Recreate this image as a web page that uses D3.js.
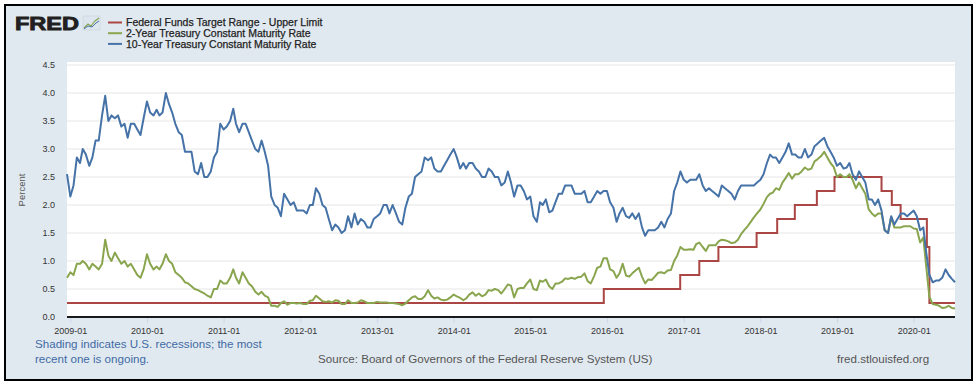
<!DOCTYPE html>
<html>
<head>
<meta charset="utf-8">
<script src="https://cdn.jsdelivr.net/npm/d3@7"></script>
<style>
  body { margin: 0; background: #fff; }
  text { font-family: "Liberation Sans", Arial, sans-serif; }
</style>
</head>
<body>
<div id="chart"></div>
<script>
//chart size
const width = 979,
  height = 386;

//series names (legend order)
const seriesNames = [
  "Federal Funds Target Range - Upper Limit",
  "2-Year Treasury Constant Maturity Rate",
  "10-Year Treasury Constant Maturity Rate",
];
const seriesColors = ["#aa4643", "#89a54e", "#4572a7"];

//first observation, then one value on the 1st and 16th of each month
const firstDate = "2008-12-16";

//10-year treasury, semi-monthly readings (one row per year)
const tenYear = [
  2.55,
  2.15, 2.35, 2.85, 2.75, 3.0, 2.9, 2.7, 2.85, 3.15, 3.15, 3.6, 3.95, 3.5, 3.6, 3.55, 3.6, 3.4, 3.45, 3.2, 3.45, 3.45, 3.35, 3.25, 3.55,
  3.85, 3.65, 3.6, 3.7, 3.6, 3.65, 4.0, 3.8, 3.65, 3.45, 3.3, 3.25, 2.95, 2.95, 2.95, 2.6, 2.55, 2.75, 2.5, 2.5, 2.6, 2.85, 2.95, 3.45,
  3.35, 3.4, 3.5, 3.72, 3.45, 3.3, 3.45, 3.45, 3.3, 3.15, 3.0, 2.95, 3.15, 2.95, 2.7, 2.15, 2.0, 1.95, 1.8, 2.2, 2.1, 2.0, 2.05, 1.9,
  1.9, 1.9, 1.85, 2.0, 2.0, 2.3, 2.2, 2.0, 1.95, 1.75, 1.55, 1.65, 1.6, 1.5, 1.55, 1.8, 1.6, 1.85, 1.65, 1.75, 1.7, 1.6, 1.6, 1.75,
  1.8, 1.85, 2.0, 2.0, 1.85, 2.0, 1.85, 1.7, 1.65, 1.95, 2.15, 2.2, 2.5, 2.55, 2.6, 2.85, 2.8, 2.85, 2.65, 2.6, 2.6, 2.7, 2.8, 2.9,
  3.0, 2.85, 2.65, 2.75, 2.65, 2.75, 2.75, 2.65, 2.6, 2.5, 2.5, 2.65, 2.6, 2.5, 2.5, 2.35, 2.4, 2.6, 2.4, 2.15, 2.35, 2.35, 2.25, 2.1,
  2.15, 1.8, 1.7, 2.05, 2.0, 2.1, 1.87, 1.9, 2.05, 2.2, 2.2, 2.35, 2.35, 2.35, 2.2, 2.2, 2.2, 2.25, 2.05, 2.05, 2.15, 2.25, 2.2, 2.25,
  2.25, 2.05, 1.95, 1.7, 1.85, 1.95, 1.8, 1.77, 1.85, 1.75, 1.85, 1.6, 1.45, 1.55, 1.55, 1.55, 1.6, 1.7, 1.6, 1.75, 1.85, 2.25, 2.4, 2.6,
  2.45, 2.4, 2.45, 2.45, 2.45, 2.55, 2.35, 2.25, 2.3, 2.25, 2.2, 2.15, 2.35, 2.3, 2.25, 2.2, 2.1, 2.25, 2.35, 2.35, 2.35, 2.35, 2.35, 2.4,
  2.45, 2.55, 2.75, 2.9, 2.85, 2.85, 2.75, 2.85, 2.95, 3.1, 2.9, 2.9, 2.85, 2.85, 3.0, 2.85, 2.9, 3.05, 3.1, 3.15, 3.2, 3.05, 2.95, 2.85,
  2.7, 2.75, 2.65, 2.67, 2.75, 2.55, 2.45, 2.6, 2.5, 2.4, 2.1, 2.1, 2.0, 2.1, 1.9, 1.55, 1.5, 1.8, 1.65, 1.75, 1.85, 1.85, 1.8, 1.85,
  1.9, 1.8, 1.55, 1.6, 1.15, 0.75, 0.62, 0.65, 0.65, 0.7, 0.85, 0.75, 0.68, 0.62,
];

//2-year treasury, same dates
const twoYear = [
  0.7,
  0.8, 0.75, 0.95, 0.95, 1.0, 0.95, 0.85, 0.95, 0.9, 0.85, 0.95, 1.38, 1.1, 1.0, 1.15, 1.05, 0.95, 1.0, 0.9, 0.95, 0.85, 0.75, 0.7, 0.85,
  1.12, 0.95, 0.85, 0.9, 0.85, 0.95, 1.12, 1.0, 0.95, 0.8, 0.75, 0.7, 0.62, 0.6, 0.55, 0.5, 0.48, 0.45, 0.42, 0.38, 0.35, 0.5, 0.5, 0.65,
  0.6, 0.6, 0.7, 0.85, 0.7, 0.6, 0.8, 0.7, 0.6, 0.55, 0.45, 0.4, 0.45, 0.38, 0.35, 0.2, 0.2, 0.18, 0.25, 0.28, 0.22, 0.25, 0.25, 0.24,
  0.25, 0.23, 0.23, 0.29, 0.3, 0.38, 0.33, 0.28, 0.27, 0.28, 0.26, 0.3, 0.29, 0.23, 0.23, 0.3, 0.25, 0.25, 0.26, 0.3, 0.28, 0.25, 0.25, 0.25,
  0.27, 0.26, 0.26, 0.26, 0.25, 0.25, 0.24, 0.23, 0.21, 0.24, 0.3, 0.35, 0.37, 0.32, 0.32, 0.37, 0.48, 0.38, 0.33, 0.35, 0.31, 0.3, 0.31, 0.35,
  0.4, 0.37, 0.34, 0.3, 0.33, 0.4, 0.44, 0.38, 0.42, 0.37, 0.4, 0.48, 0.47, 0.5, 0.48, 0.42, 0.5, 0.58, 0.56, 0.35, 0.5, 0.52, 0.52, 0.6,
  0.67, 0.5, 0.48, 0.65, 0.63, 0.67, 0.55, 0.5, 0.6, 0.6, 0.63, 0.69, 0.68, 0.7, 0.68, 0.71, 0.72, 0.78, 0.64, 0.6, 0.73, 0.88, 0.9, 1.05,
  1.05, 0.85, 0.82, 0.7, 0.78, 0.95, 0.74, 0.72, 0.78, 0.83, 0.88, 0.72, 0.6, 0.67, 0.66, 0.72, 0.79, 0.8, 0.78, 0.83, 0.84, 1.0, 1.1, 1.25,
  1.2, 1.2, 1.21, 1.2, 1.3, 1.33, 1.25, 1.18, 1.28, 1.28, 1.28, 1.35, 1.38, 1.37, 1.35, 1.32, 1.33, 1.38, 1.48, 1.55, 1.62, 1.7, 1.78, 1.85,
  1.92, 2.02, 2.14, 2.2, 2.22, 2.3, 2.27, 2.4, 2.48, 2.57, 2.47, 2.55, 2.55, 2.6, 2.67, 2.63, 2.65, 2.78, 2.82, 2.87, 2.95, 2.85, 2.75, 2.68,
  2.5, 2.55, 2.5, 2.5, 2.55, 2.45, 2.3, 2.4, 2.3, 2.2, 1.92, 1.85, 1.8, 1.85, 1.85, 1.55, 1.5, 1.78, 1.6, 1.6, 1.6, 1.62, 1.62, 1.62,
  1.58, 1.57, 1.33, 1.42, 0.9, 0.36, 0.23, 0.22, 0.2, 0.16, 0.17, 0.2, 0.16, 0.15,
];

//fed funds upper limit: date it changed and the new level
const fedDates = [
  "2008-12-16", "2015-12-17", "2016-12-15", "2017-03-16", "2017-06-15",
  "2017-12-14", "2018-03-22", "2018-06-14", "2018-09-27", "2018-12-20",
  "2019-08-01", "2019-09-19", "2019-10-31", "2020-03-04", "2020-03-16", "2020-07-16",
];
const fedUpper = [0.25, 0.5, 0.75, 1.0, 1.25, 1.5, 1.75, 2.0, 2.25, 2.5, 2.25, 2.0, 1.75, 1.25, 0.25, 0.25];

const yTicks = [0, 0.5, 1, 1.5, 2, 2.5, 3, 3.5, 4, 4.5];

//build the date list for the treasury series
const parse = d3.timeParse("%Y-%m-%d");
const obsDates = [parse(firstDate)];
d3.timeMonth.range(new Date(2009, 0, 1), new Date(2020, 7, 1)).forEach((m) => {
  obsDates.push(m, new Date(m.getFullYear(), m.getMonth(), 16));
});

const tenData = tenYear.map((v, i) => ({ date: obsDates[i], value: v }));
const twoData = twoYear.map((v, i) => ({ date: obsDates[i], value: v }));
const fedData = fedUpper.map((v, i) => ({ date: parse(fedDates[i]), value: v }));

//plot box
const plot = { left: 67, right: 955, top: 62, bottom: 317 };

const svg = d3
  .select("#chart")
  .append("svg")
  .attr("width", width)
  .attr("height", height);

//panel with frame
svg
  .append("rect")
  .attr("x", 5)
  .attr("y", 5)
  .attr("width", 967)
  .attr("height", 375)
  .attr("fill", "#e1e9f0")
  .attr("stroke", "#000")
  .attr("stroke-width", 2);

svg
  .append("rect")
  .attr("x", plot.left)
  .attr("y", plot.top)
  .attr("width", plot.right - plot.left)
  .attr("height", plot.bottom - plot.top)
  .attr("fill", "#fff");

//scales
const x = d3
  .scaleTime()
  .domain([parse(firstDate), parse("2020-07-16")])
  .range([plot.left, plot.right]);

const y = d3.scaleLinear().domain([0, 4.5]).range([plot.bottom, 65]);

//horizontal grid
svg
  .append("g")
  .selectAll("line")
  .data(yTicks.slice(1))
  .enter()
  .append("line")
  .attr("x1", plot.left)
  .attr("x2", plot.right)
  .attr("y1", (d) => y(d))
  .attr("y2", (d) => y(d))
  .attr("stroke", "#e6e6e6")
  .attr("stroke-width", 1);

//y labels
svg
  .append("g")
  .selectAll("text")
  .data(yTicks)
  .enter()
  .append("text")
  .attr("x", 55)
  .attr("y", (d) => y(d) + 3)
  .attr("text-anchor", "end")
  .style("font-size", "9px")
  .attr("fill", "#333")
  .text((d) => d3.format(".1f")(d));

svg
  .append("text")
  .attr("transform", "translate(25,190) rotate(-90)")
  .attr("text-anchor", "middle")
  .style("font-size", "9.5px")
  .attr("fill", "#555")
  .text("Percent");

//x axis
const xAxis = d3
  .axisBottom(x)
  .ticks(d3.timeYear.every(1))
  .tickFormat(d3.timeFormat("%Y-%m"))
  .tickSize(6)
  .tickPadding(5);

const xg = svg
  .append("g")
  .attr("transform", "translate(0," + plot.bottom + ")")
  .call(xAxis);
xg.select(".domain").remove();
xg.selectAll(".tick line").attr("stroke", "#ccd6eb");
xg.selectAll(".tick text")
  .style("font-size", "9px")
  .style("font-family", "Liberation Sans, Arial, sans-serif")
  .attr("fill", "#333");

//lines
const line = d3
  .line()
  .x((d) => x(d.date))
  .y((d) => y(d.value));

const stepLine = d3
  .line()
  .curve(d3.curveStepAfter)
  .x((d) => x(d.date))
  .y((d) => y(d.value));

svg
  .append("path")
  .datum(fedData)
  .attr("d", stepLine)
  .attr("fill", "none")
  .attr("stroke", seriesColors[0])
  .attr("stroke-width", 2);

svg
  .append("path")
  .datum(twoData)
  .attr("d", line)
  .attr("fill", "none")
  .attr("stroke", seriesColors[1])
  .attr("stroke-width", 2)
  .attr("stroke-linejoin", "round");

svg
  .append("path")
  .datum(tenData)
  .attr("d", line)
  .attr("fill", "none")
  .attr("stroke", seriesColors[2])
  .attr("stroke-width", 2)
  .attr("stroke-linejoin", "round");

//black base line at zero
svg
  .append("line")
  .attr("x1", plot.left)
  .attr("x2", plot.right)
  .attr("y1", plot.bottom)
  .attr("y2", plot.bottom)
  .attr("stroke", "#1a1a1a")
  .attr("stroke-width", 2);

//FRED logo
svg
  .append("text")
  .attr("x", 15)
  .attr("y", 30)
  .attr("textLength", 64)
  .attr("lengthAdjust", "spacingAndGlyphs")
  .style("font-size", "19px")
  .style("font-weight", "bold")
  .attr("fill", "#231f20")
  .attr("stroke", "#231f20")
  .attr("stroke-width", 0.9)
  .text("FRED");

//small logo icon
const icon = svg.append("g").attr("transform", "translate(83,16)");
icon
  .append("rect")
  .attr("width", 17)
  .attr("height", 14)
  .attr("fill", "#dde6ee")
  .attr("stroke", "#c3ccd4")
  .attr("stroke-width", 0.5);
icon
  .append("polyline")
  .attr("points", "1,12 5,8 8,10 12,5 16,2")
  .attr("fill", "none")
  .attr("stroke", "#89a54e")
  .attr("stroke-width", 1.2);
icon
  .append("polyline")
  .attr("points", "1,13 5,10 9,11 13,7 16,5")
  .attr("fill", "none")
  .attr("stroke", "#4572a7")
  .attr("stroke-width", 1);

//legend
const legend = svg
  .append("g")
  .selectAll("g")
  .data(seriesNames)
  .enter()
  .append("g")
  .attr("transform", (d, i) => "translate(108," + (22.5 + i * 10.7) + ")");

legend
  .append("line")
  .attr("x1", 0)
  .attr("x2", 14)
  .attr("stroke", (d, i) => seriesColors[i])
  .attr("stroke-width", 2);

legend
  .append("text")
  .attr("x", 18)
  .attr("y", 3.8)
  .style("font-size", "10.5px")
  .attr("fill", "#222")
  .attr("stroke", "#222")
  .attr("stroke-width", 0.25)
  .text((d) => d);

//footer notes
const footer = svg.append("g").style("font-size", "11.6px");
footer
  .append("text")
  .attr("x", 35)
  .attr("y", 348)
  .attr("fill", "#3f6aa5")
  .text("Shading indicates U.S. recessions; the most");
footer
  .append("text")
  .attr("x", 35)
  .attr("y", 363)
  .attr("fill", "#3f6aa5")
  .text("recent one is ongoing.");
footer
  .append("text")
  .attr("x", 318)
  .attr("y", 363)
  .attr("fill", "#555")
  .text("Source: Board of Governors of the Federal Reserve System (US)");
footer
  .append("text")
  .attr("x", 837)
  .attr("y", 363)
  .attr("fill", "#555")
  .text("fred.stlouisfed.org");
</script>
</body>
</html>
